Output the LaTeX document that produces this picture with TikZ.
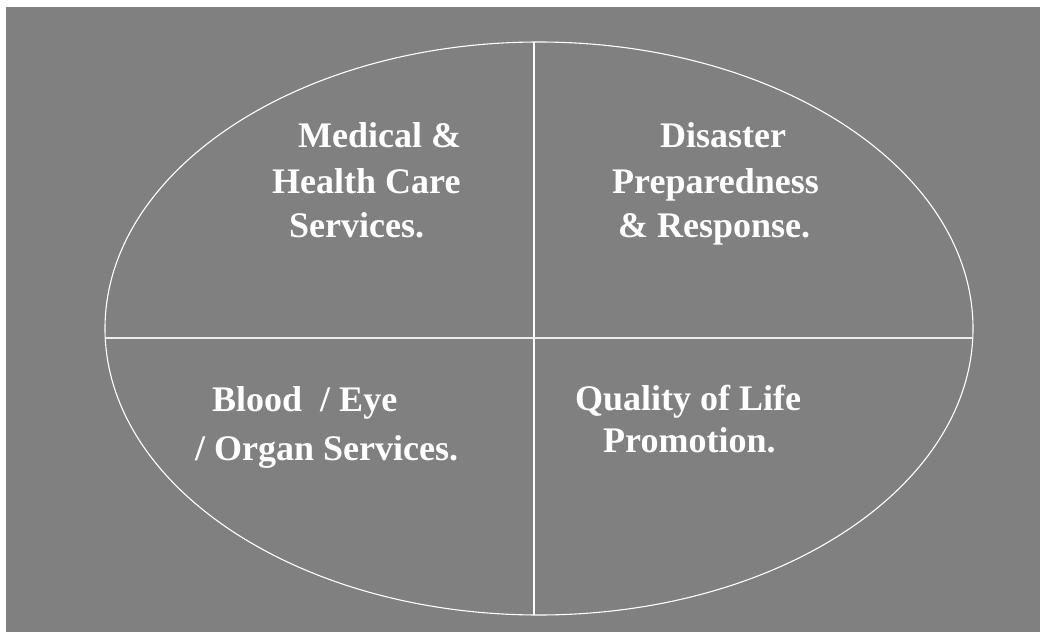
\documentclass[tikz,border=0pt]{standalone}
\usepackage{fontspec}
\setmainfont{Liberation Serif}
\usetikzlibrary{positioning}
\definecolor{Slate}{HTML}{808080}
\tikzset{
  quad/.style={text=white,font=\fontsize{36}{44}\selectfont\bfseries,inner sep=0pt,anchor=base west},
  divider/.style={draw=white,line width=1.1pt}
}
\begin{document}
\begin{tikzpicture}[x=1pt,y=-1pt]
\useasboundingbox (0,0) rectangle (1045,637);
\fill[white] (0,0) rectangle (1045,637);
\fill[Slate] (6,7) rectangle (1040,632);
% the oval and its two dividers
\draw[divider] (539,328.5) ellipse [x radius=434,y radius=286.5];
\draw[divider] (534,42) -- (534,615);
\draw[divider,draw=white!85!Slate] (105.2,338) -- (972.8,338);
% top left
\node[quad] (med1) at (298,147) {Medical \&};
\node[quad] (med2) at (272,193) {Health Care};
\node[quad] (med3) at (289,237) {Services.};
% top right
\node[quad] (dis1) at (660,147) {Disaster};
\node[quad] (dis2) at (612,193) {Preparedness};
\node[quad] (dis3) at (618,237) {\& Response.};
% bottom left
\node[quad] (bld1) at (212,411) {Blood~~/ Eye};
\node[quad] (bld2) at (195,460) {/ Organ Services.};
% bottom right
\node[quad] (qol1) at (575,410) {Quality of Life};
\node[quad] (qol2) at (603,452) {Promotion.};
\end{tikzpicture}
\end{document}
